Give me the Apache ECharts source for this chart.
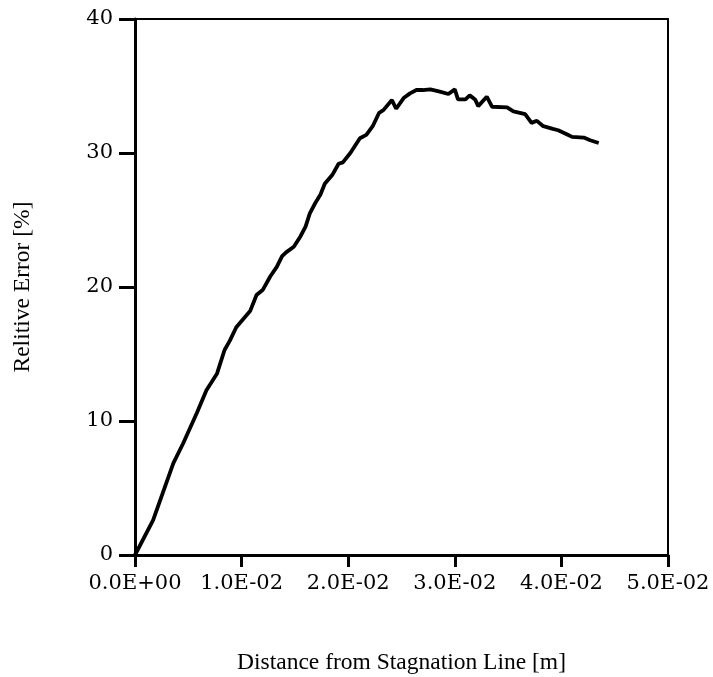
<!DOCTYPE html>
<html>
<head>
<meta charset="utf-8">
<script src="https://cdn.jsdelivr.net/npm/echarts@6/dist/echarts.min.js"></script>
<style>html,body{margin:0;padding:0;background:#fff;}#c{width:713px;height:677px;}</style>
</head>
<body>
<div id="c"></div>
<script>
var xTickLabels = ['0.0E+00','1.0E-02','2.0E-02','3.0E-02','4.0E-02','5.0E-02'];
var yTickLabels = ['0','10','20','30','40'];
var distance = [0,0.0017,0.0036,0.0045,0.0058,0.0067,0.0077,0.0084,0.0089,0.0095,0.0102,0.0108,0.0114,0.0120,0.0127,0.0133,0.0138,0.0142,0.0149,0.0155,0.0160,0.0164,0.0169,0.0174,0.0178,0.0185,0.0191,0.0195,0.0202,0.0211,0.0217,0.0223,0.0229,0.0233,0.0241,0.0245,0.0252,0.0258,0.0264,0.0270,0.0277,0.0285,0.0294,0.0300,0.0303,0.0310,0.0314,0.0319,0.0322,0.0330,0.0335,0.0349,0.0355,0.0366,0.0372,0.0377,0.0383,0.0392,0.0397,0.0405,0.0410,0.0421,0.0427,0.0435];
var relError = [0,2.6,6.85,8.3,10.6,12.3,13.55,15.3,16.0,17.0,17.65,18.2,19.4,19.8,20.8,21.5,22.3,22.6,23.0,23.75,24.5,25.5,26.25,26.9,27.7,28.35,29.2,29.3,30.0,31.1,31.35,32.0,33.0,33.2,33.95,33.3,34.1,34.45,34.7,34.7,34.75,34.6,34.4,34.75,34.0,34.0,34.3,34.0,33.5,34.2,33.45,33.4,33.1,32.9,32.25,32.4,32.0,31.8,31.7,31.4,31.2,31.15,30.95,30.75];

var pts = distance.map(function(x,i){return [x, relError[i]];});
var tickFont = 'DejaVu Serif';
var titleFont = 'Liberation Serif';
var chart = echarts.init(document.getElementById('c'), null, {renderer:'canvas'});
chart.setOption({
  animation:false,
  backgroundColor:'#fff',
  grid:{left:135,right:45,top:19,bottom:122,containLabel:false,outerBoundsMode:'none'},
  xAxis:[{
    type:'value',min:0,max:0.05,interval:0.01,position:'bottom',
    name:'Distance from Stagnation Line [m]',nameLocation:'middle',nameGap:96,
    nameTextStyle:{fontFamily:titleFont,fontSize:23.5,color:'#000'},
    axisLine:{show:true,onZero:false,lineStyle:{color:'#000',width:3}},
    axisTick:{show:true,inside:false,length:12,lineStyle:{color:'#000',width:3}},
    axisLabel:{margin:18,fontFamily:tickFont,fontSize:21,color:'#000',
      formatter:function(v){var i=Math.round(v/0.01);return xTickLabels[i]||'';}},
    splitLine:{show:false}
  },{
    type:'value',min:0,max:0.05,position:'top',
    axisLine:{show:true,onZero:false,lineStyle:{color:'#000',width:2}},
    axisTick:{show:false},axisLabel:{show:false},splitLine:{show:false}
  }],
  yAxis:[{
    type:'value',min:0,max:40,interval:10,position:'left',
    name:'Relitive Error [%]',nameLocation:'middle',nameGap:100,
    nameTextStyle:{fontFamily:titleFont,fontSize:23.5,color:'#000'},
    axisLine:{show:true,onZero:false,lineStyle:{color:'#000',width:3}},
    axisTick:{show:true,inside:false,length:16,lineStyle:{color:'#000',width:3}},
    axisLabel:{margin:22,fontFamily:tickFont,fontSize:21,color:'#000',
      formatter:function(v){var i=Math.round(v/10);return yTickLabels[i]||'';}},
    splitLine:{show:false}
  },{
    type:'value',min:0,max:40,position:'right',
    axisLine:{show:true,onZero:false,lineStyle:{color:'#000',width:2}},
    axisTick:{show:false},axisLabel:{show:false},splitLine:{show:false}
  }],
  series:[{
    type:'line',xAxisIndex:0,yAxisIndex:0,data:pts,showSymbol:false,smooth:false,
    lineStyle:{color:'#000',width:3.8},z:5
  }]
});
</script>
</body>
</html>
